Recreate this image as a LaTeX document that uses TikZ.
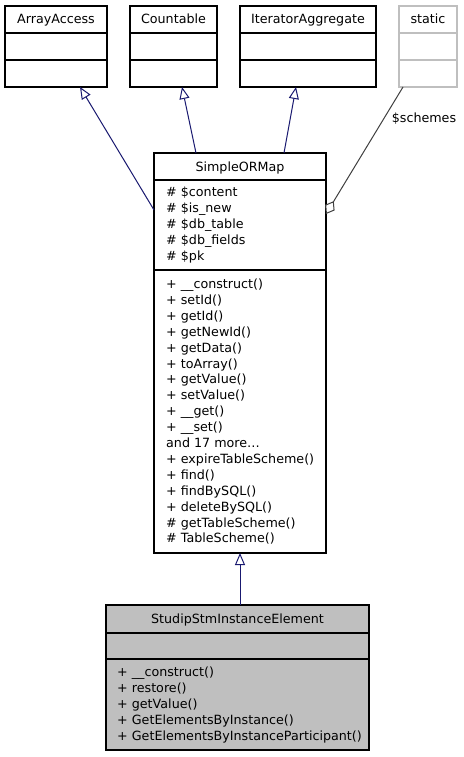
\documentclass[tikz,border=0pt]{standalone}
\usepackage{fontspec}
\setmainfont{DejaVu Sans}
\usetikzlibrary{arrows.meta}
\definecolor{edgeblue}{HTML}{191970}
\definecolor{lgray}{HTML}{BFBFBF}
\definecolor{dgray}{HTML}{404040}
\begin{document}
\begin{tikzpicture}[x=1pt,y=-1pt,
  font=\fontsize{12.7}{15}\selectfont,
  cls/.style={draw=black, line width=1.1pt, inner sep=0pt, outer sep=0pt, anchor=north west},
  sep/.style={line width=1.6pt},
  txt/.style={anchor=base west, inner sep=0pt},
  ttl/.style={anchor=base, inner sep=0pt},
  inh/.style={draw=edgeblue, line width=1pt, -{Triangle[open, length=12pt, width=10pt, fill=white]}},
  agg/.style={draw=dgray, line width=1pt, {Diamond[open, length=15pt, width=11pt, fill=white]}-}]
\fill[white] (0,0) rectangle (463,757);
\useasboundingbox (0,0) rectangle (463,757);

% interface boxes
\node[cls, minimum width=102pt, minimum height=81pt] (aa) at (5,6) {};
\draw[sep] (5,33) -- (107,33); \draw[sep] (5,60) -- (107,60);
\node[ttl] (aat) at (56,23.5) {ArrayAccess};

\node[cls, minimum width=87pt, minimum height=81pt] (co) at (130,6) {};
\draw[sep] (130,33) -- (217,33); \draw[sep] (130,60) -- (217,60);
\node[ttl] (cot) at (173.5,23.5) {Countable};

\node[cls, minimum width=136pt, minimum height=81pt] (ia) at (240,6) {};
\draw[sep] (240,33) -- (376,33); \draw[sep] (240,60) -- (376,60);
\node[ttl] (iat) at (308,23.5) {IteratorAggregate};

\node[cls, draw=lgray, minimum width=58pt, minimum height=81pt] (st) at (399,6) {};
\draw[sep, lgray] (399,33) -- (457,33); \draw[sep, lgray] (399,60) -- (457,60);
\node[ttl] (stt) at (428,23.5) {static};

% SimpleORMap
\node[cls, fill=white, minimum width=172pt, minimum height=400pt] (sorm) at (154,153) {};
\draw[sep] (154,180) -- (326,180); \draw[sep] (154,270) -- (326,270);
\node[ttl] (sormt) at (240,171.5) {SimpleORMap};
\foreach \t [count=\i from 0] in {\#~\$content, \#~\$is\_new, \#~\$db\_table, \#~\$db\_fields, \#~\$pk}
  \node[txt] (sa\i) at (166,196.5+16*\i) {\t};
\foreach \t [count=\i from 0] in {+~\_\_construct(), +~setId(), +~getId(), +~getNewId(), +~getData(), +~toArray(), +~getValue(), +~setValue(), +~\_\_get(), +~\_\_set(), and 17 more\ldots, +~expireTableScheme(), +~find(), +~findBySQL(), +~deleteBySQL(), \#~getTableScheme(), \#~TableScheme()}
  \node[txt] (sm\i) at (166,288.5+15.9*\i) {\t};

% StudipStmInstanceElement
\node[cls, fill=lgray, minimum width=263pt, minimum height=145pt] (sse) at (106,605) {};
\draw[sep] (106,633) -- (369,633); \draw[sep] (106,659) -- (369,659);
\node[ttl] (sset) at (237.5,623.5) {StudipStmInstanceElement};
\foreach \t [count=\i from 0] in {+~\_\_construct(), +~restore(), +~getValue(), +~GetElementsByInstance(), +~GetElementsByInstanceParticipant()}
  \node[txt] (se\i) at (117,676.5+16*\i) {\t};

% connectors
\draw[inh] ([yshift=-57pt]sorm.north west) -- ([xshift=75pt]aa.south west);
\draw[inh] ([xshift=42pt]sorm.north west) -- ([xshift=52pt]co.south west);
\draw[inh] ([xshift=130pt]sorm.north west) -- ([xshift=56pt]ia.south west);
\draw[inh] ([xshift=134pt]sse.north west) -- ([xshift=86pt]sorm.south west);
\draw[agg] ([yshift=-61pt]sorm.north east) -- ([xshift=4pt]st.south west);
\node (lbl) at (424,119) {\$schemes};
\end{tikzpicture}
\end{document}
